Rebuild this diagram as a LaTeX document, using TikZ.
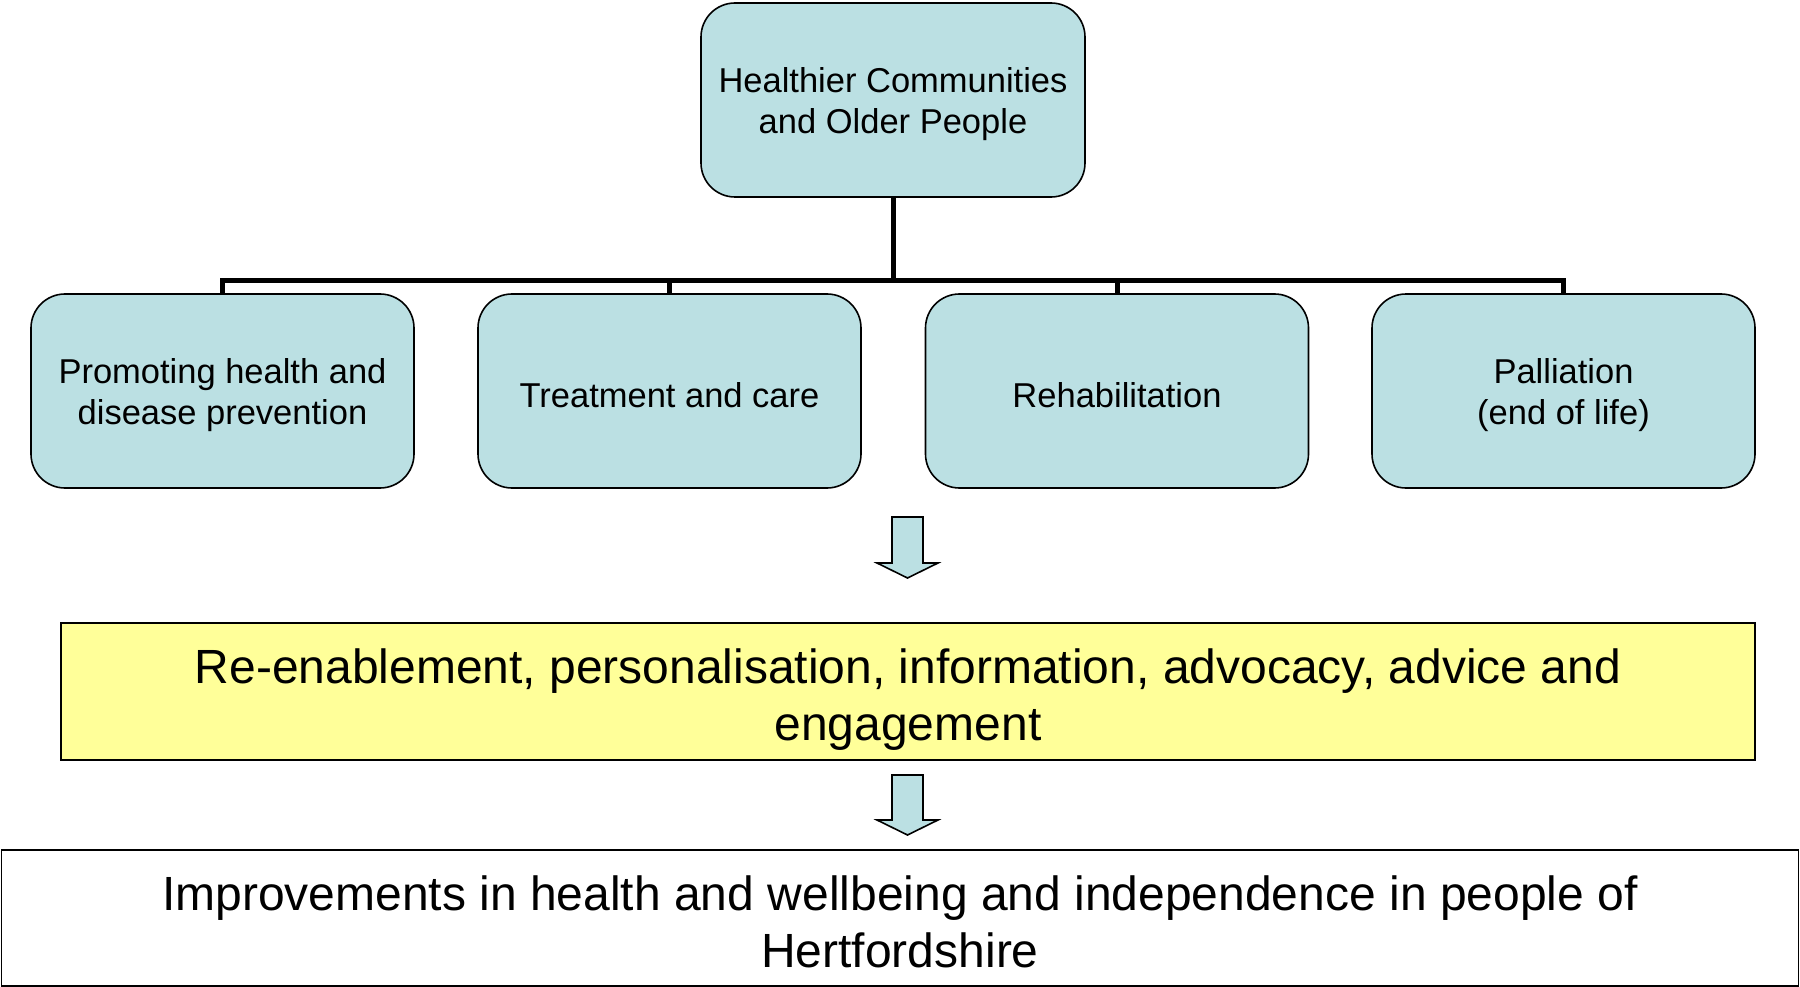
\documentclass[tikz,border=0pt]{standalone}
\usepackage{fontspec}
\setmainfont{Liberation Sans}
\definecolor{boxblue}{HTML}{BBE0E3}
\definecolor{boxyellow}{HTML}{FFFF99}
\newcommand{\liftby}[1]{\rule{0pt}{#1}}
\begin{document}
\begin{tikzpicture}[x=1pt,y=-1pt,
  smallbox/.style={draw=black, line width=1.6pt, fill=boxblue, rounded corners=34pt,
    minimum width=383pt, minimum height=194pt, inner sep=0pt, align=center,
    font=\fontsize{34.5}{41}\selectfont},
  bigbox/.style={draw=black, line width=1.8pt, minimum height=137pt, inner sep=0pt, align=center,
    font=\fontsize{48}{57}\selectfont},
  conn/.style={draw=black, line width=5pt, line join=miter},
  blockarrow/.style={draw=black, line width=1.6pt, fill=boxblue, line join=miter}
]
\useasboundingbox (0,0) rectangle (1800,987);

\node[smallbox, minimum width=384pt] (top) at (893,100) {\liftby{33pt}Healthier Communities\\and Older People};
\node[smallbox] (c1) at (222.5,391) {\liftby{33pt}Promoting health and\\disease prevention};
\node[smallbox] (c2) at (669.5,391) {\liftby{33pt}Treatment and care};
\node[smallbox] (c3) at (1117,391) {\liftby{33pt}Rehabilitation};
\node[smallbox] (c4) at (1563.5,391) {\liftby{33pt}Palliation\\(end of life)};

\coordinate (bus) at (0,281);
\draw[conn] (top.south) -- (top.south |- bus);
\draw[conn] (c1.north) -- (c1.north |- bus) -- (c4.north |- bus) -- (c4.north);
\draw[conn] (c2.north) -- (c2.north |- bus);
\draw[conn] (c3.north) -- (c3.north |- bus);

\node[bigbox, fill=boxyellow, minimum width=1694pt] (mid) at (908,691.5)
  {\liftby{51pt}Re-enablement, personalisation, information, advocacy, advice and\\engagement};
\node[bigbox, fill=white, minimum width=1797pt, minimum height=136pt] (bot) at (900,918)
  {\liftby{43pt}Improvements in health and wellbeing and independence in people of\\Hertfordshire};

\coordinate (a1) at (907.5,517);
\draw[blockarrow] (a1) ++(-15.5,0) -- ++(31,0) -- ++(0,46) -- ++(15,0) -- ++(-30.5,15)
  -- ++(-30.5,-15) -- ++(15,0) -- cycle;
\coordinate (a2) at (907.5,775);
\draw[blockarrow] (a2) ++(-15.5,0) -- ++(31,0) -- ++(0,45) -- ++(15,0) -- ++(-30.5,15)
  -- ++(-30.5,-15) -- ++(15,0) -- cycle;
\end{tikzpicture}
\end{document}
